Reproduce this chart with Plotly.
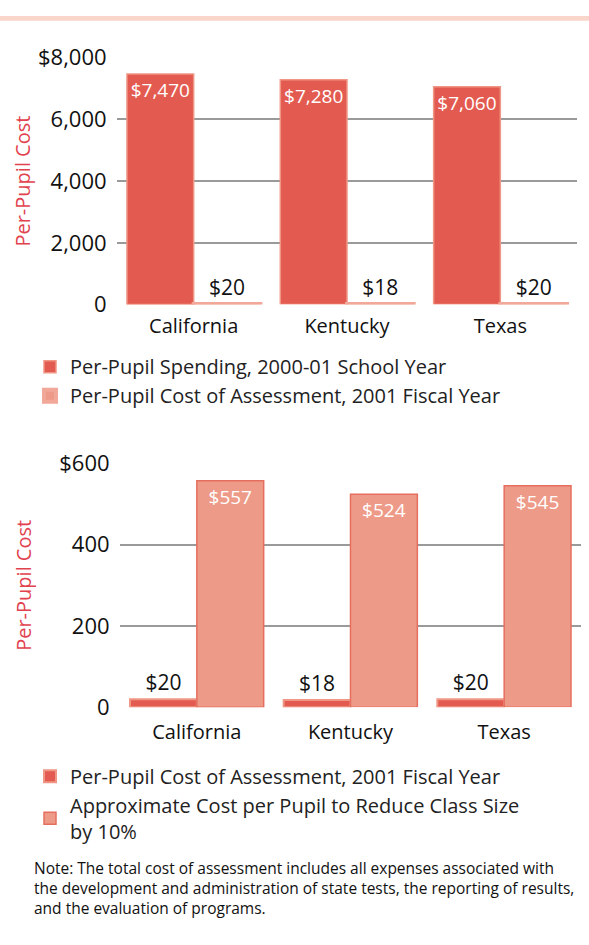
import plotly.graph_objects as go

# ---------------- data ----------------
states = ["California", "Kentucky", "Texas"]
spending = [7470, 7280, 7060]          # Per-pupil spending, 2000-01
assessment = [20, 18, 20]              # Per-pupil cost of assessment, 2001
class_size = [557, 524, 545]           # Approx. cost per pupil to reduce class size by 10%

top_tickvals = [0, 2000, 4000, 6000, 8000]
top_ticktext = ["0", "2,000", "4,000", "6,000", "$8,000"]
bot_tickvals = [0, 200, 400, 600]
bot_ticktext = ["0", "200", "400", "$600"]

name_spend = "Per-Pupil Spending, 2000-01 School Year"
name_assess = "Per-Pupil Cost of Assessment, 2001 Fiscal Year"
name_class = "Approximate Cost per Pupil to Reduce Class Size<br>by 10%"

note = ("Note: The total cost of assessment includes all expenses associated with<br>"
        "the development and administration of state tests, the reporting of results,<br>"
        "and the evaluation of programs.")

# ---------------- style ----------------
FONT = "Open Sans"
DARK = "#E35B50"
DARK_EDGE = "#EF9684"
LIGHT = "#EE9A88"
LIGHT_EDGE = "#E56F5F"
RED_TITLE = "#E2424E"
GRID = "#9A9A9A"
W, H = 589, 945


def money(v):
    return f"${v:,}"


def py(px):
    return 1 - px / H


def pxx(px):
    return px / W


fig = go.Figure()

# top chart
fig.add_trace(go.Bar(
    x=states, y=spending, name=name_spend, xaxis="x", yaxis="y", legend="legend",
    legendgroup="a",
    marker=dict(color=DARK, line=dict(color=DARK_EDGE, width=1.5)),
    text=[money(v) for v in spending], textposition="inside", insidetextanchor="end",
    textfont=dict(color="white", size=19, family=FONT), constraintext="none",
    hoverinfo="skip"))
fig.add_trace(go.Bar(
    x=states, y=assessment, name=name_assess, xaxis="x", yaxis="y", legend="legend",
    legendgroup="b",
    marker=dict(color=LIGHT, line=dict(color="#F2A898", width=4)),
    text=[money(v) for v in assessment], textposition="outside",
    textfont=dict(color="#111111", size=21, family=FONT), cliponaxis=False,
    hoverinfo="skip"))

# bottom chart
fig.add_trace(go.Bar(
    x=states, y=assessment, name=name_assess, xaxis="x2", yaxis="y2", legend="legend2",
    legendgroup="c",
    marker=dict(color=DARK, line=dict(color=DARK_EDGE, width=2)),
    text=[money(v) for v in assessment], textposition="outside",
    textfont=dict(color="#111111", size=21, family=FONT), cliponaxis=False,
    hoverinfo="skip"))
fig.add_trace(go.Bar(
    x=states, y=class_size, name=name_class, xaxis="x2", yaxis="y2", legend="legend2",
    legendgroup="d",
    marker=dict(color=LIGHT, line=dict(color=LIGHT_EDGE, width=1.5)),
    text=[money(v) for v in class_size], textposition="inside", insidetextanchor="end",
    textfont=dict(color="white", size=19, family=FONT), constraintext="none",
    hoverinfo="skip"))

axis_common = dict(showline=False, zeroline=False, fixedrange=True)

fig.update_layout(
    width=W, height=H,
    margin=dict(l=0, r=0, t=0, b=0),
    paper_bgcolor="white", plot_bgcolor="white",
    font=dict(family=FONT, color="#111111", size=19),
    barmode="group", bargap=0.13, bargroupgap=0.0,
    xaxis=dict(domain=[pxx(117), pxx(577)], anchor="y",
               tickfont=dict(size=20, color="#111111"), ticks="outside",
               ticklen=3, tickcolor="rgba(0,0,0,0)", showgrid=False, **axis_common),
    yaxis=dict(domain=[py(298), py(43)], anchor="x", range=[0, 8000],
               tickvals=top_tickvals, ticktext=top_ticktext,
               tickfont=dict(size=22, color="#111111"),
               ticks="outside", ticklen=5, tickcolor="rgba(0,0,0,0)",
               showgrid=True, gridcolor=GRID, gridwidth=2,
               title=dict(text="Per-Pupil Cost", font=dict(color=RED_TITLE, size=20),
                          standoff=1),
               **axis_common),
    xaxis2=dict(domain=[pxx(120), pxx(581)], anchor="y2",
                tickfont=dict(size=20, color="#111111"), ticks="outside",
                ticklen=7, tickcolor="rgba(0,0,0,0)", showgrid=False, **axis_common),
    yaxis2=dict(domain=[py(714), py(462)], anchor="x2", range=[0, 600],
                tickvals=bot_tickvals, ticktext=bot_ticktext,
                tickfont=dict(size=22, color="#111111"),
                ticks="outside", ticklen=5, tickcolor="rgba(0,0,0,0)",
                showgrid=True, gridcolor=GRID, gridwidth=2,
                title=dict(text="Per-Pupil Cost", font=dict(color=RED_TITLE, size=20),
                           standoff=22),
                **axis_common),
    legend=dict(x=pxx(30), y=py(342), xanchor="left", yanchor="top",
                font=dict(size=20, color="#222222"), tracegroupgap=0,
                bgcolor="rgba(0,0,0,0)", itemclick=False, itemdoubleclick=False),
    legend2=dict(x=pxx(30), y=py(765), xanchor="left", yanchor="top",
                 font=dict(size=20, color="#222222"), tracegroupgap=0,
                 bgcolor="rgba(0,0,0,0)", itemclick=False, itemdoubleclick=False),
    showlegend=True,
    shapes=[dict(type="rect", xref="paper", yref="paper", x0=0, x1=1,
                 y0=py(5), y1=1, fillcolor="#F9D6C9", line=dict(width=0), layer="below")],
    annotations=[dict(text=note, xref="paper", yref="paper", x=pxx(32), y=py(901),
                      xanchor="left", yanchor="middle", align="left", showarrow=False,
                      font=dict(size=15.5, color="#111111", family=FONT))],
)

fig.write_html("out.html", config={"displayModeBar": False},
               post_script="document.body.style.margin='0';")
